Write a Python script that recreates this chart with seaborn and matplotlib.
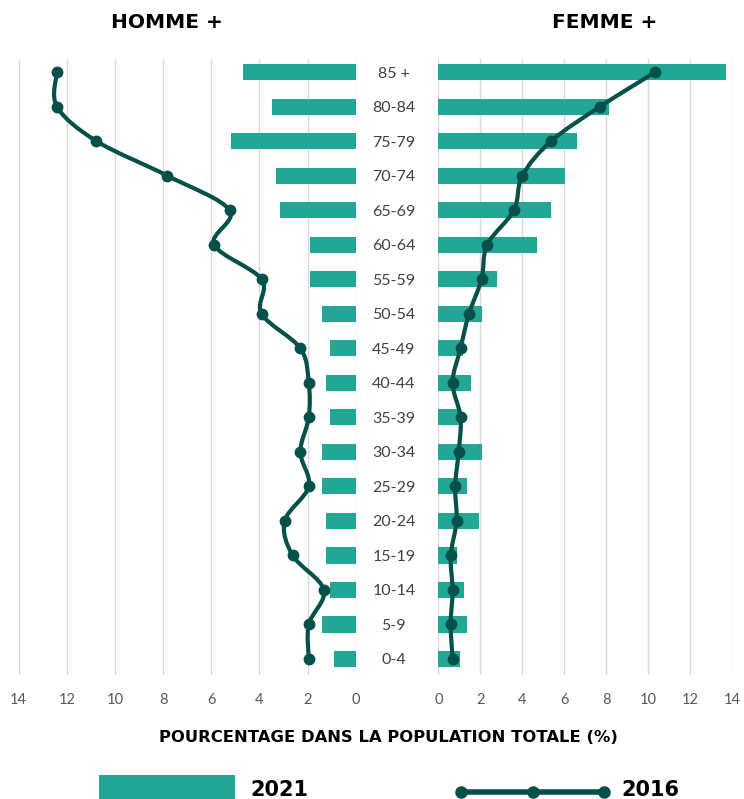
import numpy as np
import pandas as pd
import matplotlib
matplotlib.use('Agg')
import matplotlib.pyplot as plt
import seaborn as sns
from matplotlib.path import Path
from matplotlib.patches import PathPatch, Rectangle
from matplotlib.lines import Line2D

# données (% de la population totale)
ages = ['85 +', '80-84', '75-79', '70-74', '65-69', '60-64', '55-59', '50-54', '45-49',
        '40-44', '35-39', '30-34', '25-29', '20-24', '15-19', '10-14', '5-9', '0-4']
homme_2021 = [4.67, 3.47, 5.20, 3.30, 3.13, 1.90, 1.90, 1.39, 1.06,
              1.22, 1.06, 1.39, 1.39, 1.22, 1.22, 1.06, 1.39, 0.89]
homme_2016 = [12.41, 12.41, 10.77, 7.83, 5.24, 5.88, 3.91, 3.91, 2.30,
              1.95, 1.95, 2.30, 1.95, 2.95, 2.62, 1.32, 1.95, 1.95]
femme_2021 = [13.69, 8.14, 6.59, 6.05, 5.37, 4.68, 2.78, 2.10, 1.19,
              1.56, 1.05, 2.10, 1.38, 1.92, 0.87, 1.21, 1.38, 1.03]
femme_2016 = [10.33, 7.70, 5.37, 4.00, 3.60, 2.33, 2.06, 1.46, 1.06,
              0.68, 1.06, 0.97, 0.80, 0.87, 0.59, 0.68, 0.59, 0.68]
ticks = [0, 2, 4, 6, 8, 10, 12, 14]

BAR = '#22a696'
LINE = '#06504a'
GRID = '#d9d9d9'

sns.set_theme(style='white')
plt.rcParams['font.family'] = ['Lato', 'DejaVu Sans']


def smooth_path(xs, ys):
    # courbe lissée (type Excel) passant par les points
    pts = np.column_stack([xs, ys]).astype(float)
    n = len(pts)
    verts = [pts[0]]
    codes = [Path.MOVETO]
    for i in range(n - 1):
        p0 = pts[max(i - 1, 0)]
        p1 = pts[i]
        p2 = pts[i + 1]
        p3 = pts[min(i + 2, n - 1)]
        verts += [p1 + (p2 - p0) / 6, p2 - (p3 - p1) / 6, p2]
        codes += [Path.CURVE4] * 3
    return Path(verts, codes)


def panel(ax, v2021, v2016, flip):
    df = pd.DataFrame({'age': ages, 'pct': v2021})
    sns.barplot(data=df, x='pct', y='age', orient='h', color=BAR, width=0.47,
                saturation=1, linewidth=0, ax=ax)
    pos = np.arange(len(ages))
    ax.add_patch(PathPatch(smooth_path(v2016, pos), fill=False, edgecolor=LINE,
                           lw=3, zorder=3, capstyle='round'))
    ax.plot(v2016, pos, 'o', color=LINE, ms=7.5, zorder=4)
    ax.set_xlim((14, 0) if flip else (0, 14))
    ax.set_ylim(len(ages) - 1 + 0.465, -0.38)
    ax.set_xticks(ticks)
    ax.set_xticklabels([str(t) for t in ticks])
    ax.grid(axis='x', color=GRID, lw=1)
    ax.set_axisbelow(True)
    sns.despine(ax=ax, left=True, bottom=True)
    ax.tick_params(axis='x', length=0, pad=13, labelsize=10.5, labelcolor='#595959')
    ax.set_xlabel('')
    ax.set_ylabel('')


fig = plt.figure(figsize=(7.44, 7.99), dpi=100)
ax_h = fig.add_axes([18.7 / 744, 1 - 675 / 799, 337 / 744, 616 / 799])
ax_f = fig.add_axes([438.3 / 744, 1 - 675 / 799, 294 / 744, 616 / 799])

panel(ax_h, homme_2021, homme_2016, flip=True)
panel(ax_f, femme_2021, femme_2016, flip=False)

ax_h.tick_params(axis='y', length=0, labelleft=False)
ax_f.tick_params(axis='y', length=0, pad=32, labelsize=11.5, labelcolor='#404040')
for lbl in ax_f.get_yticklabels():
    lbl.set_ha('center')

bold = dict(fontweight='bold', family='DejaVu Sans', color='black', va='center')
fig.text(166.5 / 744, 1 - 22 / 799, 'HOMME +', ha='center', fontsize=14.5, **bold)
fig.text(605 / 744, 1 - 22 / 799, 'FEMME +', ha='center', fontsize=14.5, **bold)
fig.text(388 / 744, 1 - 738 / 799, 'POURCENTAGE DANS LA POPULATION TOTALE (%)',
         ha='center', fontsize=11.8, **bold)

# légende
fig.add_artist(Rectangle((98.6 / 744, -0.01), (235 - 98.6) / 744, 0.01 + 24 / 799,
                         transform=fig.transFigure, color=BAR, lw=0))
fig.text(250 / 744, 1 - 790 / 799, '2021', ha='left', fontsize=15, **bold)
fig.add_artist(Line2D([461 / 744, 532.5 / 744, 604 / 744], [1 - 791.7 / 799] * 3,
                      transform=fig.transFigure, color=LINE, lw=4, marker='o', ms=8))
fig.text(621 / 744, 1 - 790 / 799, '2016', ha='left', fontsize=15, **bold)

fig.savefig('out.png', dpi=100)
